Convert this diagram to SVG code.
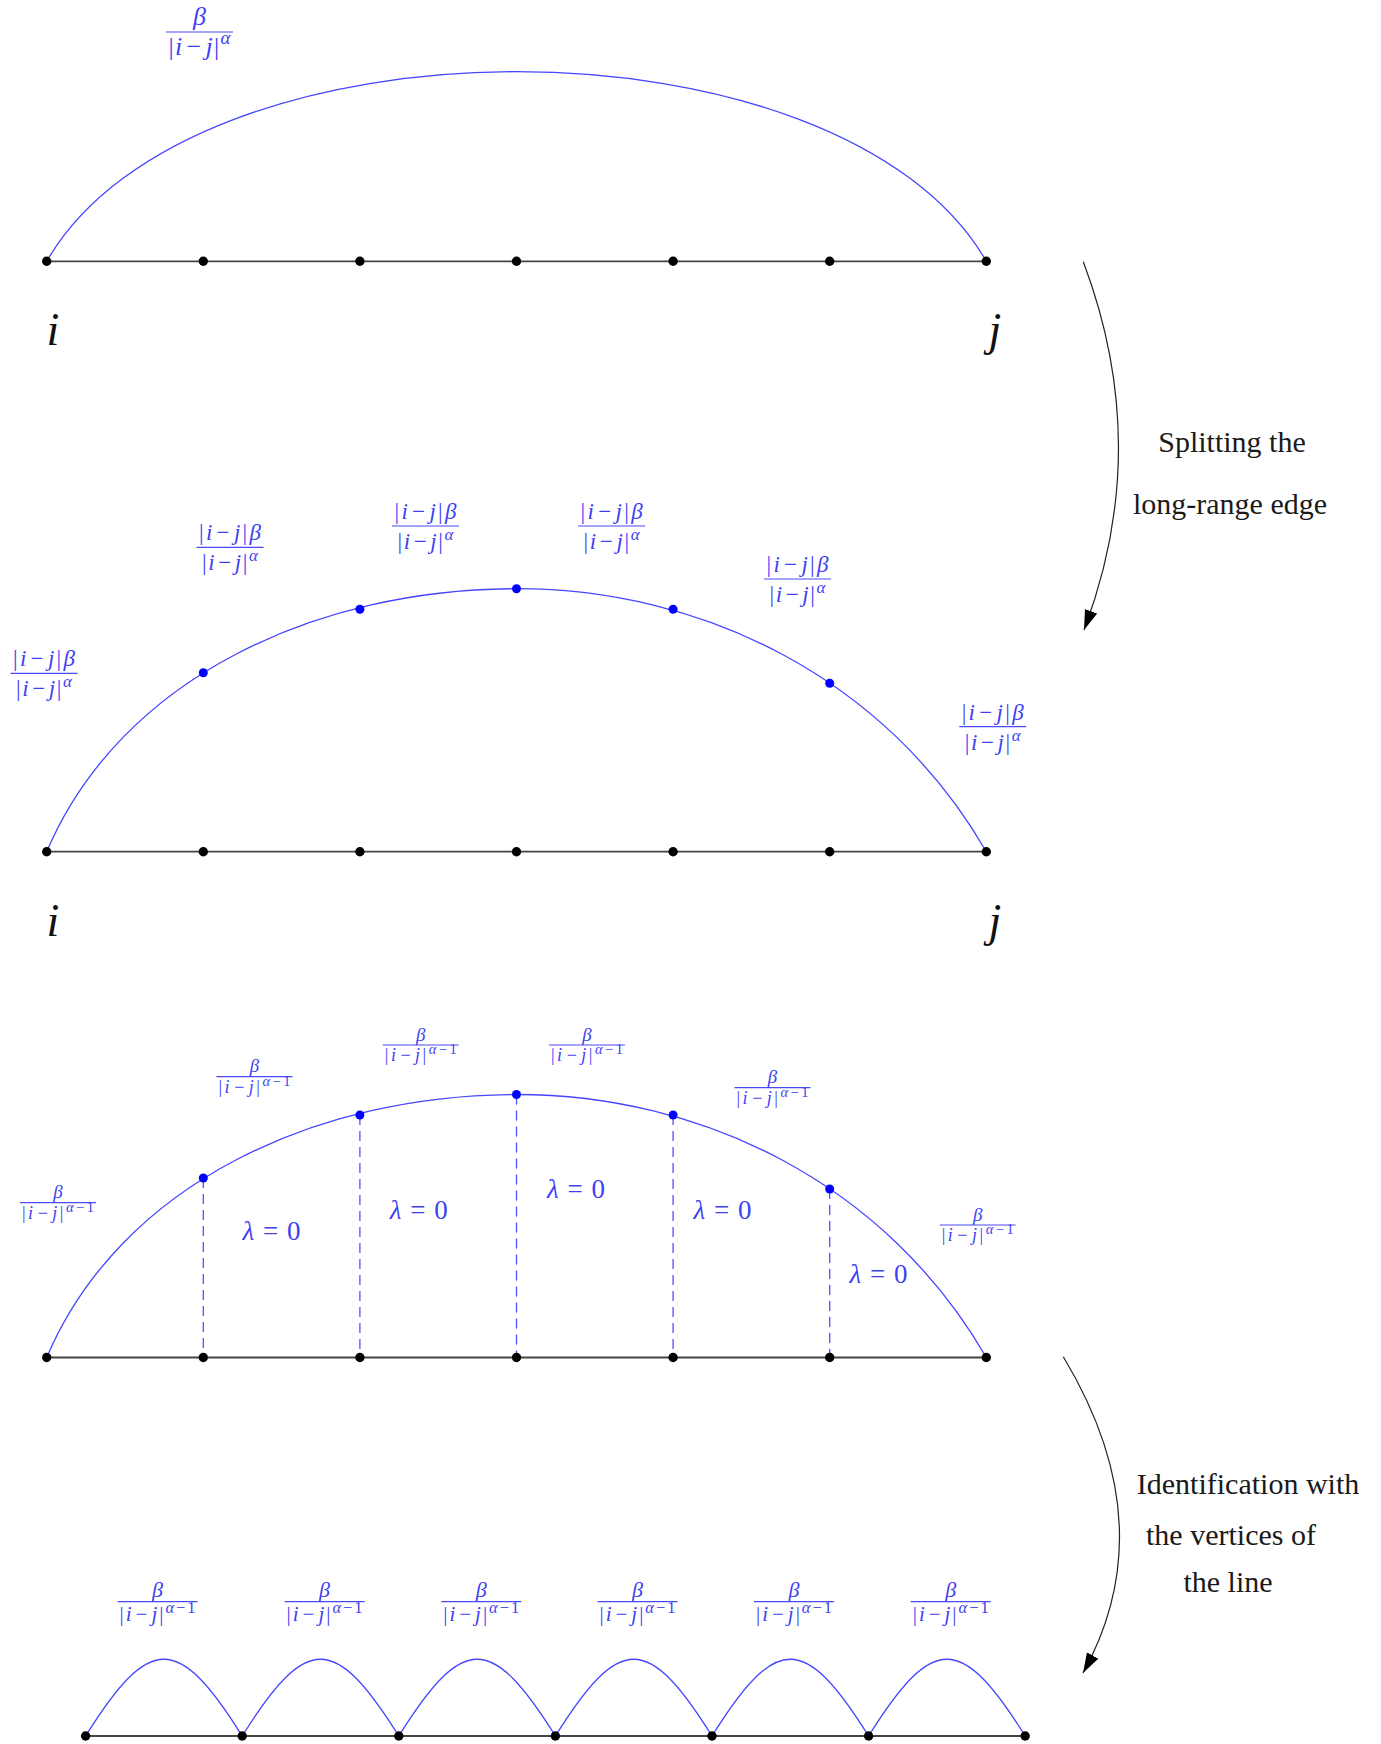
<svg xmlns="http://www.w3.org/2000/svg" width="1381" height="1744" viewBox="0 0 1381 1744">
<defs>
<style>
.m{font-family:"Liberation Serif","Times New Roman",serif;fill:#3f3ff2}
.it{font-style:italic}
.bar{stroke:#4a4af5;stroke-width:1.2}
.txt{font-family:"Liberation Serif","Times New Roman",serif;font-size:30px;fill:#1a1a1a;text-anchor:middle}
.ij{font-family:"Liberation Serif","Times New Roman",serif;font-size:46px;font-style:italic;fill:#111;text-anchor:middle}
.base{stroke:#454545;stroke-width:1.8;fill:none}
.arc{stroke:#4646ff;stroke-width:1.3;fill:none}
.dash{stroke:#5050ff;stroke-width:1.3;stroke-dasharray:10 6}
.v{fill:#000}
.bv{fill:#0000ff}
.arrow{stroke:#222;stroke-width:1.2;fill:none;marker-end:url(#ah)}
</style>
<marker id="ah" markerUnits="userSpaceOnUse" markerWidth="22" markerHeight="14" refX="20" refY="6.5" orient="auto">
<path d="M0 0 L20 6.5 L0 13 z" fill="#000"/>
</marker>
</defs>
<rect width="1381" height="1744" fill="#fff"/>

<g id="connectors">
<line class="base" x1="46.7" y1="261.3" x2="986.3" y2="261.3"/>
<path class="arc" d="M46.7 261.3 C192.7 8.5 840.3 8.5 986.3 261.3"/>
<line class="base" x1="46.7" y1="851.7" x2="986.3" y2="851.7"/>
<path class="arc" d="M46.7 851.7 C121.2 676.4 318.8 588.7 516.5 588.7 C700.8 588.7 885.1 676.4 986.3 851.7"/>
<line class="base" x1="46.7" y1="1357.5" x2="986.3" y2="1357.5"/>
<path class="arc" d="M46.7 1357.5 C121.2 1182.2 318.8 1094.5 516.5 1094.5 C700.8 1094.5 885.1 1182.2 986.3 1357.5"/>
<line class="dash" x1="203.3" y1="1178" x2="203.3" y2="1357.5"/>
<line class="dash" x1="359.9" y1="1115" x2="359.9" y2="1357.5"/>
<line class="dash" x1="516.5" y1="1094.5" x2="516.5" y2="1357.5"/>
<line class="dash" x1="673.1" y1="1115" x2="673.1" y2="1357.5"/>
<line class="dash" x1="829.7" y1="1189" x2="829.7" y2="1357.5"/>
<line class="base" x1="85.6" y1="1736" x2="1025.2" y2="1736"/>
<path class="arc" d="M85.6 1736 C149.5 1633.7 178.3 1633.7 242.2 1736"/>
<path class="arc" d="M242.2 1736 C306.1 1633.7 334.9 1633.7 398.8 1736"/>
<path class="arc" d="M398.8 1736 C462.7 1633.7 491.5 1633.7 555.4 1736"/>
<path class="arc" d="M555.4 1736 C619.3 1633.7 648.1 1633.7 712 1736"/>
<path class="arc" d="M712 1736 C775.9 1633.7 804.7 1633.7 868.6 1736"/>
<path class="arc" d="M868.6 1736 C932.5 1633.7 961.3 1633.7 1025.2 1736"/>
<path id="arrow-split" class="arrow" d="M1083.3 261.7 Q1153.3 447.5 1084 630"/>
<path id="arrow-ident" class="arrow" d="M1063.3 1356.7 Q1164.8 1525.1 1083 1673"/>
</g>

<g id="panel1-nodes">
<g id="p1-v0"><circle class="v" cx="46.7" cy="261.3" r="4.7"/></g>
<g id="p1-v1"><circle class="v" cx="203.3" cy="261.3" r="4.7"/></g>
<g id="p1-v2"><circle class="v" cx="359.9" cy="261.3" r="4.7"/></g>
<g id="p1-v3"><circle class="v" cx="516.5" cy="261.3" r="4.7"/></g>
<g id="p1-v4"><circle class="v" cx="673.1" cy="261.3" r="4.7"/></g>
<g id="p1-v5"><circle class="v" cx="829.7" cy="261.3" r="4.7"/></g>
<g id="p1-v6"><circle class="v" cx="986.3" cy="261.3" r="4.7"/></g>
<text class="ij" x="53" y="345">i</text>
<text class="ij" x="995" y="345">j</text>
<g id="p1-w">
<text class="m it" x="199.5" y="24.5" font-size="26" text-anchor="middle">β</text>
<line class="bar" x1="166" y1="32" x2="233" y2="32"/>
<text class="m" x="199.5" y="54.5" font-size="26" text-anchor="middle" textLength="62" lengthAdjust="spacing">|<tspan class="it">i</tspan><tspan dx="3">−</tspan><tspan class="it" dx="3">j</tspan>|<tspan class="it" font-size="19" dy="-11">α</tspan></text>
</g>
</g>

<g id="panel2-nodes">
<g id="p2-v0"><circle class="v" cx="46.7" cy="851.7" r="4.7"/></g>
<g id="p2-v1"><circle class="v" cx="203.3" cy="851.7" r="4.7"/></g>
<g id="p2-v2"><circle class="v" cx="359.9" cy="851.7" r="4.7"/></g>
<g id="p2-v3"><circle class="v" cx="516.5" cy="851.7" r="4.7"/></g>
<g id="p2-v4"><circle class="v" cx="673.1" cy="851.7" r="4.7"/></g>
<g id="p2-v5"><circle class="v" cx="829.7" cy="851.7" r="4.7"/></g>
<g id="p2-v6"><circle class="v" cx="986.3" cy="851.7" r="4.7"/></g>
<g id="p2-b1"><circle class="bv" cx="203.3" cy="672.7" r="4.5"/></g>
<g id="p2-b2"><circle class="bv" cx="359.9" cy="609.3" r="4.5"/></g>
<g id="p2-b3"><circle class="bv" cx="516.5" cy="588.7" r="4.5"/></g>
<g id="p2-b4"><circle class="bv" cx="673.1" cy="609.3" r="4.5"/></g>
<g id="p2-b5"><circle class="bv" cx="829.7" cy="683.3" r="4.5"/></g>
<text class="ij" x="53" y="936">i</text>
<text class="ij" x="995" y="936">j</text>
<g id="p2-labels">
<g id="p2-w1">
<text class="m" x="44" y="666.3" font-size="23" text-anchor="middle" textLength="62" lengthAdjust="spacing">|<tspan class="it">i</tspan><tspan dx="2">−</tspan><tspan class="it" dx="2">j</tspan>|<tspan class="it">β</tspan></text>
<line class="bar" x1="10.5" y1="673.3" x2="77.5" y2="673.3"/>
<text class="m" x="44" y="696.3" font-size="23" text-anchor="middle" textLength="56" lengthAdjust="spacing">|<tspan class="it">i</tspan><tspan dx="2">−</tspan><tspan class="it" dx="2">j</tspan>|<tspan class="it" font-size="17" dy="-9">α</tspan></text>
</g>
<g id="p2-w2">
<text class="m" x="230" y="540.3" font-size="23" text-anchor="middle" textLength="62" lengthAdjust="spacing">|<tspan class="it">i</tspan><tspan dx="2">−</tspan><tspan class="it" dx="2">j</tspan>|<tspan class="it">β</tspan></text>
<line class="bar" x1="196.5" y1="547.3" x2="263.5" y2="547.3"/>
<text class="m" x="230" y="570.3" font-size="23" text-anchor="middle" textLength="56" lengthAdjust="spacing">|<tspan class="it">i</tspan><tspan dx="2">−</tspan><tspan class="it" dx="2">j</tspan>|<tspan class="it" font-size="17" dy="-9">α</tspan></text>
</g>
<g id="p2-w3">
<text class="m" x="425.5" y="519" font-size="23" text-anchor="middle" textLength="62" lengthAdjust="spacing">|<tspan class="it">i</tspan><tspan dx="2">−</tspan><tspan class="it" dx="2">j</tspan>|<tspan class="it">β</tspan></text>
<line class="bar" x1="392" y1="526" x2="459" y2="526"/>
<text class="m" x="425.5" y="549" font-size="23" text-anchor="middle" textLength="56" lengthAdjust="spacing">|<tspan class="it">i</tspan><tspan dx="2">−</tspan><tspan class="it" dx="2">j</tspan>|<tspan class="it" font-size="17" dy="-9">α</tspan></text>
</g>
<g id="p2-w4">
<text class="m" x="611.6" y="519" font-size="23" text-anchor="middle" textLength="62" lengthAdjust="spacing">|<tspan class="it">i</tspan><tspan dx="2">−</tspan><tspan class="it" dx="2">j</tspan>|<tspan class="it">β</tspan></text>
<line class="bar" x1="578.1" y1="526" x2="645.1" y2="526"/>
<text class="m" x="611.6" y="549" font-size="23" text-anchor="middle" textLength="56" lengthAdjust="spacing">|<tspan class="it">i</tspan><tspan dx="2">−</tspan><tspan class="it" dx="2">j</tspan>|<tspan class="it" font-size="17" dy="-9">α</tspan></text>
</g>
<g id="p2-w5">
<text class="m" x="797.5" y="572" font-size="23" text-anchor="middle" textLength="62" lengthAdjust="spacing">|<tspan class="it">i</tspan><tspan dx="2">−</tspan><tspan class="it" dx="2">j</tspan>|<tspan class="it">β</tspan></text>
<line class="bar" x1="764" y1="579" x2="831" y2="579"/>
<text class="m" x="797.5" y="602" font-size="23" text-anchor="middle" textLength="56" lengthAdjust="spacing">|<tspan class="it">i</tspan><tspan dx="2">−</tspan><tspan class="it" dx="2">j</tspan>|<tspan class="it" font-size="17" dy="-9">α</tspan></text>
</g>
<g id="p2-w6">
<text class="m" x="992.7" y="719.7" font-size="23" text-anchor="middle" textLength="62" lengthAdjust="spacing">|<tspan class="it">i</tspan><tspan dx="2">−</tspan><tspan class="it" dx="2">j</tspan>|<tspan class="it">β</tspan></text>
<line class="bar" x1="959.2" y1="726.7" x2="1026.2" y2="726.7"/>
<text class="m" x="992.7" y="749.7" font-size="23" text-anchor="middle" textLength="56" lengthAdjust="spacing">|<tspan class="it">i</tspan><tspan dx="2">−</tspan><tspan class="it" dx="2">j</tspan>|<tspan class="it" font-size="17" dy="-9">α</tspan></text>
</g>
</g>
</g>

<g id="panel3-nodes">
<g id="p3-v0"><circle class="v" cx="46.7" cy="1357.5" r="4.7"/></g>
<g id="p3-v1"><circle class="v" cx="203.3" cy="1357.5" r="4.7"/></g>
<g id="p3-v2"><circle class="v" cx="359.9" cy="1357.5" r="4.7"/></g>
<g id="p3-v3"><circle class="v" cx="516.5" cy="1357.5" r="4.7"/></g>
<g id="p3-v4"><circle class="v" cx="673.1" cy="1357.5" r="4.7"/></g>
<g id="p3-v5"><circle class="v" cx="829.7" cy="1357.5" r="4.7"/></g>
<g id="p3-v6"><circle class="v" cx="986.3" cy="1357.5" r="4.7"/></g>
<g id="p3-b1"><circle class="bv" cx="203.3" cy="1178" r="4.5"/></g>
<g id="p3-b2"><circle class="bv" cx="359.9" cy="1115" r="4.5"/></g>
<g id="p3-b3"><circle class="bv" cx="516.5" cy="1094.5" r="4.5"/></g>
<g id="p3-b4"><circle class="bv" cx="673.1" cy="1115" r="4.5"/></g>
<g id="p3-b5"><circle class="bv" cx="829.7" cy="1189" r="4.5"/></g>
<g id="p3-lambda">
<text class="m" x="242.4" y="1240" font-size="27" textLength="58" lengthAdjust="spacing"><tspan class="it">λ</tspan> = 0</text>
<text class="m" x="389.7" y="1219" font-size="27" textLength="58" lengthAdjust="spacing"><tspan class="it">λ</tspan> = 0</text>
<text class="m" x="547" y="1198" font-size="27" textLength="58" lengthAdjust="spacing"><tspan class="it">λ</tspan> = 0</text>
<text class="m" x="693.4" y="1219" font-size="27" textLength="58" lengthAdjust="spacing"><tspan class="it">λ</tspan> = 0</text>
<text class="m" x="849.6" y="1282.7" font-size="27" textLength="58" lengthAdjust="spacing"><tspan class="it">λ</tspan> = 0</text>
</g>
<g id="p3-labels">
<g id="p3-w1">
<text class="m it" x="58" y="1198.2" font-size="19" text-anchor="middle">β</text>
<line class="bar" x1="20" y1="1202.7" x2="96" y2="1202.7"/>
<text class="m" x="58" y="1218.7" font-size="18" text-anchor="middle" textLength="72" lengthAdjust="spacing">|<tspan class="it">i</tspan><tspan dx="2">−</tspan><tspan class="it" dx="2">j</tspan>|<tspan font-size="14.5" dy="-7"><tspan class="it">α</tspan>−1</tspan></text>
</g>
<g id="p3-w2">
<text class="m it" x="254.5" y="1072.2" font-size="19" text-anchor="middle">β</text>
<line class="bar" x1="216.5" y1="1076.7" x2="292.5" y2="1076.7"/>
<text class="m" x="254.5" y="1092.7" font-size="18" text-anchor="middle" textLength="72" lengthAdjust="spacing">|<tspan class="it">i</tspan><tspan dx="2">−</tspan><tspan class="it" dx="2">j</tspan>|<tspan font-size="14.5" dy="-7"><tspan class="it">α</tspan>−1</tspan></text>
</g>
<g id="p3-w3">
<text class="m it" x="420.8" y="1040.5" font-size="19" text-anchor="middle">β</text>
<line class="bar" x1="382.8" y1="1045" x2="458.8" y2="1045"/>
<text class="m" x="420.8" y="1061" font-size="18" text-anchor="middle" textLength="72" lengthAdjust="spacing">|<tspan class="it">i</tspan><tspan dx="2">−</tspan><tspan class="it" dx="2">j</tspan>|<tspan font-size="14.5" dy="-7"><tspan class="it">α</tspan>−1</tspan></text>
</g>
<g id="p3-w4">
<text class="m it" x="587" y="1040.5" font-size="19" text-anchor="middle">β</text>
<line class="bar" x1="549" y1="1045" x2="625" y2="1045"/>
<text class="m" x="587" y="1061" font-size="18" text-anchor="middle" textLength="72" lengthAdjust="spacing">|<tspan class="it">i</tspan><tspan dx="2">−</tspan><tspan class="it" dx="2">j</tspan>|<tspan font-size="14.5" dy="-7"><tspan class="it">α</tspan>−1</tspan></text>
</g>
<g id="p3-w5">
<text class="m it" x="772.5" y="1083.2" font-size="19" text-anchor="middle">β</text>
<line class="bar" x1="734.5" y1="1087.7" x2="810.5" y2="1087.7"/>
<text class="m" x="772.5" y="1103.7" font-size="18" text-anchor="middle" textLength="72" lengthAdjust="spacing">|<tspan class="it">i</tspan><tspan dx="2">−</tspan><tspan class="it" dx="2">j</tspan>|<tspan font-size="14.5" dy="-7"><tspan class="it">α</tspan>−1</tspan></text>
</g>
<g id="p3-w6">
<text class="m it" x="977.7" y="1220.5" font-size="19" text-anchor="middle">β</text>
<line class="bar" x1="939.7" y1="1225" x2="1015.7" y2="1225"/>
<text class="m" x="977.7" y="1241" font-size="18" text-anchor="middle" textLength="72" lengthAdjust="spacing">|<tspan class="it">i</tspan><tspan dx="2">−</tspan><tspan class="it" dx="2">j</tspan>|<tspan font-size="14.5" dy="-7"><tspan class="it">α</tspan>−1</tspan></text>
</g>
</g>
</g>

<g id="panel4-nodes">
<g id="p4-v0"><circle class="v" cx="85.6" cy="1736" r="4.7"/></g>
<g id="p4-v1"><circle class="v" cx="242.2" cy="1736" r="4.7"/></g>
<g id="p4-v2"><circle class="v" cx="398.8" cy="1736" r="4.7"/></g>
<g id="p4-v3"><circle class="v" cx="555.4" cy="1736" r="4.7"/></g>
<g id="p4-v4"><circle class="v" cx="712" cy="1736" r="4.7"/></g>
<g id="p4-v5"><circle class="v" cx="868.6" cy="1736" r="4.7"/></g>
<g id="p4-v6"><circle class="v" cx="1025.2" cy="1736" r="4.7"/></g>
<g id="p4-labels">
<g id="p4-w1">
<text class="m it" x="157.6" y="1596.7" font-size="22" text-anchor="middle">β</text>
<line class="bar" x1="117.6" y1="1601.7" x2="197.6" y2="1601.7"/>
<text class="m" x="157.6" y="1621.2" font-size="21" text-anchor="middle" textLength="76" lengthAdjust="spacing">|<tspan class="it">i</tspan><tspan dx="2">−</tspan><tspan class="it" dx="2">j</tspan>|<tspan font-size="16.5" dy="-8"><tspan class="it">α</tspan>−1</tspan></text>
</g>
<g id="p4-w2">
<text class="m it" x="324.6" y="1596.7" font-size="22" text-anchor="middle">β</text>
<line class="bar" x1="284.6" y1="1601.7" x2="364.6" y2="1601.7"/>
<text class="m" x="324.6" y="1621.2" font-size="21" text-anchor="middle" textLength="76" lengthAdjust="spacing">|<tspan class="it">i</tspan><tspan dx="2">−</tspan><tspan class="it" dx="2">j</tspan>|<tspan font-size="16.5" dy="-8"><tspan class="it">α</tspan>−1</tspan></text>
</g>
<g id="p4-w3">
<text class="m it" x="481.3" y="1596.7" font-size="22" text-anchor="middle">β</text>
<line class="bar" x1="441.3" y1="1601.7" x2="521.3" y2="1601.7"/>
<text class="m" x="481.3" y="1621.2" font-size="21" text-anchor="middle" textLength="76" lengthAdjust="spacing">|<tspan class="it">i</tspan><tspan dx="2">−</tspan><tspan class="it" dx="2">j</tspan>|<tspan font-size="16.5" dy="-8"><tspan class="it">α</tspan>−1</tspan></text>
</g>
<g id="p4-w4">
<text class="m it" x="637.5" y="1596.7" font-size="22" text-anchor="middle">β</text>
<line class="bar" x1="597.5" y1="1601.7" x2="677.5" y2="1601.7"/>
<text class="m" x="637.5" y="1621.2" font-size="21" text-anchor="middle" textLength="76" lengthAdjust="spacing">|<tspan class="it">i</tspan><tspan dx="2">−</tspan><tspan class="it" dx="2">j</tspan>|<tspan font-size="16.5" dy="-8"><tspan class="it">α</tspan>−1</tspan></text>
</g>
<g id="p4-w5">
<text class="m it" x="794" y="1596.7" font-size="22" text-anchor="middle">β</text>
<line class="bar" x1="754" y1="1601.7" x2="834" y2="1601.7"/>
<text class="m" x="794" y="1621.2" font-size="21" text-anchor="middle" textLength="76" lengthAdjust="spacing">|<tspan class="it">i</tspan><tspan dx="2">−</tspan><tspan class="it" dx="2">j</tspan>|<tspan font-size="16.5" dy="-8"><tspan class="it">α</tspan>−1</tspan></text>
</g>
<g id="p4-w6">
<text class="m it" x="950.7" y="1596.7" font-size="22" text-anchor="middle">β</text>
<line class="bar" x1="910.7" y1="1601.7" x2="990.7" y2="1601.7"/>
<text class="m" x="950.7" y="1621.2" font-size="21" text-anchor="middle" textLength="76" lengthAdjust="spacing">|<tspan class="it">i</tspan><tspan dx="2">−</tspan><tspan class="it" dx="2">j</tspan>|<tspan font-size="16.5" dy="-8"><tspan class="it">α</tspan>−1</tspan></text>
</g>
</g>
</g>

<g id="arrow-labels">
<g id="label-split">
<text class="txt" x="1232" y="452">Splitting the</text>
<text class="txt" x="1230" y="514">long-range edge</text>
</g>
<g id="label-ident">
<text class="txt" x="1248" y="1494">Identification with</text>
<text class="txt" x="1231" y="1545">the vertices of</text>
<text class="txt" x="1228" y="1592">the line</text>
</g>
</g>
</svg>
